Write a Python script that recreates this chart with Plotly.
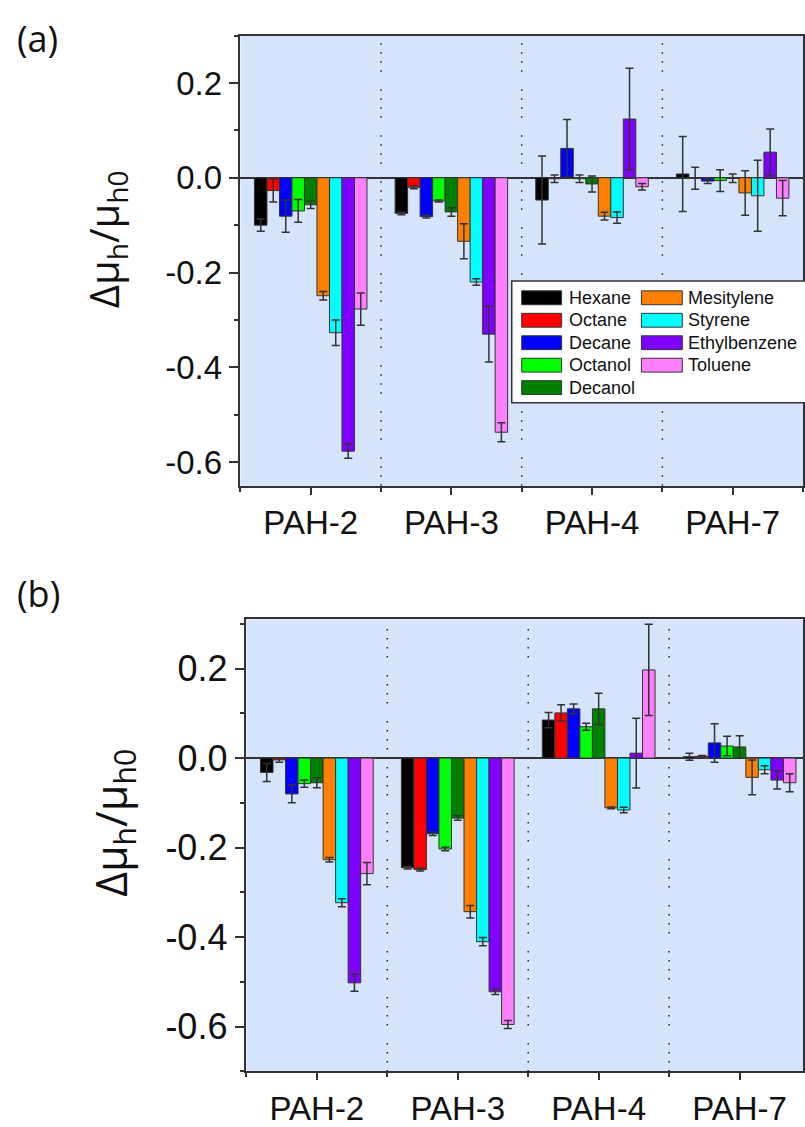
import plotly.graph_objects as go

W, H = 805, 1127

categories = ["PAH-2", "PAH-3", "PAH-4", "PAH-7"]
solvents = ["Hexane", "Octane", "Decane", "Octanol", "Decanol",
            "Mesitylene", "Styrene", "Ethylbenzene", "Toluene"]
colors = ["#000000", "#FF0000", "#0000FF", "#00FF00", "#008000",
          "#FF8000", "#00FFFF", "#8000FF", "#FF80FF"]

# Panel (a) values (per solvent, across PAH-2, PAH-3, PAH-4, PAH-7)
hexane_a = [-0.100, -0.075, -0.047, 0.008]
octane_a = [-0.027, -0.020, -0.002, -0.001]
decane_a = [-0.081, -0.082, 0.062, -0.007]
octanol_a = [-0.070, -0.049, -0.002, -0.006]
decanol_a = [-0.057, -0.072, -0.013, -0.001]
mesitylene_a = [-0.249, -0.134, -0.081, -0.032]
styrene_a = [-0.327, -0.220, -0.084, -0.038]
ethylbenzene_a = [-0.577, -0.330, 0.124, 0.054]
toluene_a = [-0.277, -0.537, -0.019, -0.043]

hexane_a_err = [0.013, 0.003, 0.093, 0.079]
octane_a_err = [0.024, 0.003, 0.008, 0.023]
decane_a_err = [0.034, 0.003, 0.061, 0.005]
octanol_a_err = [0.024, 0.002, 0.008, 0.023]
decanol_a_err = [0.008, 0.009, 0.017, 0.009]
mesitylene_a_err = [0.009, 0.037, 0.008, 0.047]
styrene_a_err = [0.027, 0.007, 0.012, 0.075]
ethylbenzene_a_err = [0.015, 0.059, 0.107, 0.049]
toluene_a_err = [0.034, 0.020, 0.007, 0.037]

# Panel (b) values
hexane_b = [-0.032, -0.245, 0.085, 0.003]
octane_b = [-0.004, -0.249, 0.101, 0.004]
decane_b = [-0.080, -0.169, 0.110, 0.034]
octanol_b = [-0.057, -0.203, 0.070, 0.027]
decanol_b = [-0.055, -0.134, 0.110, 0.025]
mesitylene_b = [-0.227, -0.343, -0.111, -0.043]
styrene_b = [-0.323, -0.410, -0.116, -0.026]
ethylbenzene_b = [-0.502, -0.522, 0.011, -0.049]
toluene_b = [-0.258, -0.595, 0.197, -0.055]

hexane_b_err = [0.020, 0.003, 0.017, 0.008]
octane_b_err = [0.005, 0.003, 0.018, 0.002]
decane_b_err = [0.020, 0.004, 0.011, 0.043]
octanol_b_err = [0.008, 0.004, 0.008, 0.022]
decanol_b_err = [0.011, 0.005, 0.035, 0.025]
mesitylene_b_err = [0.005, 0.014, 0.002, 0.039]
styrene_b_err = [0.009, 0.009, 0.006, 0.009]
ethylbenzene_b_err = [0.019, 0.006, 0.078, 0.020]
toluene_b_err = [0.025, 0.009, 0.102, 0.020]

ytick_vals = [-0.6, -0.4, -0.2, 0.0, 0.2]
ytick_text = ["-0.6", "-0.4", "-0.2", "0.0", "0.2"]

panel_a = [hexane_a, octane_a, decane_a, octanol_a, decanol_a,
           mesitylene_a, styrene_a, ethylbenzene_a, toluene_a]
panel_a_err = [hexane_a_err, octane_a_err, decane_a_err, octanol_a_err, decanol_a_err,
               mesitylene_a_err, styrene_a_err, ethylbenzene_a_err, toluene_a_err]
panel_b = [hexane_b, octane_b, decane_b, octanol_b, decanol_b,
           mesitylene_b, styrene_b, ethylbenzene_b, toluene_b]
panel_b_err = [hexane_b_err, octane_b_err, decane_b_err, octanol_b_err, decanol_b_err,
               mesitylene_b_err, styrene_b_err, ethylbenzene_b_err, toluene_b_err]

xpos = list(range(len(categories)))
AX = "#333333"
TICKFONT = "Liberation Sans, Arial, sans-serif"

fig = go.Figure()
for vals, errs, xa, ya in [(panel_a, panel_a_err, "x", "y"), (panel_b, panel_b_err, "x2", "y2")]:
    for name, col, v, e in zip(solvents, colors, vals, errs):
        fig.add_trace(go.Bar(
            x=xpos, y=v, name=name, xaxis=xa, yaxis=ya, showlegend=False,
            marker=dict(color=col, line=dict(color=AX, width=1)),
            error_y=dict(type="data", array=e, visible=True, color=AX, thickness=1.5, width=4),
        ))


def px_x(p):
    return p / W


def px_y(p):
    return 1 - p / H


def xaxis_cfg(domain, rng):
    return dict(
        domain=domain, range=rng, tickmode="array", tickvals=xpos, ticktext=categories,
        ticks="outside", ticklen=7, tickwidth=1.5, tickcolor=AX,
        showline=True, linecolor=AX, linewidth=1.5, mirror=True,
        showgrid=False, zeroline=False,
        tickfont=dict(family=TICKFONT, size=33, color="#111"),
        minor=dict(tickmode="linear", tick0=0.5, dtick=1, ticks="outside", ticklen=4,
                   tickwidth=1.5, tickcolor=AX, showgrid=False),
        fixedrange=True,
    )


def yaxis_cfg(domain, rng, anchor, size):
    return dict(
        domain=domain, range=rng, anchor=anchor, tickmode="array", tickvals=ytick_vals,
        ticktext=ytick_text, ticks="outside", ticklen=10, tickwidth=1.5, tickcolor=AX,
        showline=True, linecolor=AX, linewidth=1.5, mirror=True, showgrid=False,
        zeroline=True, zerolinecolor=AX, zerolinewidth=1.5,
        tickfont=dict(family=TICKFONT, size=size, color="#111"),
        minor=dict(tickmode="linear", tick0=0, dtick=0.1, ticks="outside", ticklen=5,
                   tickwidth=1.5, tickcolor=AX, showgrid=False),
        fixedrange=True,
    )


fig.update_layout(
    width=W, height=H, margin=dict(l=0, r=0, t=0, b=0),
    paper_bgcolor="white", plot_bgcolor="#D6E4FB",
    barmode="group", bargap=0.2, bargroupgap=0,
    showlegend=False,
    xaxis=dict(xaxis_cfg([px_x(241), 1.0], [-0.5, 3.5]), anchor="y"),
    yaxis=yaxis_cfg([px_y(491), px_y(36)], [-0.65, 0.30], "x", 33),
    xaxis2=dict(xaxis_cfg([px_x(247), 1.0], [-0.5, 3.45]), anchor="y2"),
    yaxis2=yaxis_cfg([px_y(1083), px_y(626)], [-0.70, 0.31], "x2", 36),
)

shapes = []
# dotted separators between groups
for xa, ya in [("x", "y domain"), ("x2", "y2 domain")]:
    for b in [0.5, 1.5, 2.5]:
        shapes.append(dict(type="line", xref=xa, yref=ya, x0=b, x1=b, y0=0, y1=1,
                           line=dict(color="#222", width=1.5,
                                     dash="1.5px,7.5px,1.5px,7.5px,1.5px,7.5px,1.5px,17.5px"),
                           layer="above"))

# legend box (panel a)
shapes.append(dict(type="rect", xref="paper", yref="paper",
                   x0=px_x(513), x1=px_x(810), y0=px_y(407), y1=px_y(284),
                   fillcolor="white", line=dict(color=AX, width=1.5), layer="above"))
annotations = []
row_y0, row_dy = 301, 22.7
col_x = [(523, 563, 568), (643, 684, 688)]
for i, (name, col) in enumerate(zip(solvents, colors)):
    c = 0 if i < 5 else 1
    r = i if i < 5 else i - 5
    cy = row_y0 + r * row_dy
    sx0, sx1, tx = col_x[c]
    shapes.append(dict(type="rect", xref="paper", yref="paper",
                       x0=px_x(sx0), x1=px_x(sx1), y0=px_y(cy + 7), y1=px_y(cy - 7),
                       fillcolor=col, line=dict(color=AX, width=1), layer="above"))
    annotations.append(dict(xref="paper", yref="paper", x=px_x(tx), y=px_y(cy),
                            text=name, showarrow=False, xanchor="left", yanchor="middle",
                            font=dict(family=TICKFONT, size=18, color="#111")))

# panel labels and y-axis titles
TITLEFONT = "Open Sans, Lato, sans-serif"
annotations += [
    dict(xref="paper", yref="paper", x=px_x(38), y=px_y(39), text="(a)", showarrow=False,
         xanchor="center", yanchor="middle",
         font=dict(family=TITLEFONT, size=36, color="#111")),
    dict(xref="paper", yref="paper", x=px_x(39), y=px_y(600), text="(b)", showarrow=False,
         xanchor="center", yanchor="middle",
         font=dict(family=TITLEFONT, size=36, color="#111")),
    dict(xref="paper", yref="paper", x=px_x(106), y=px_y(242),
         text="Δμ<sub>h</sub>/μ<sub>h0</sub>", showarrow=False, textangle=-90,
         xanchor="center", yanchor="middle",
         font=dict(family=TITLEFONT, size=40, color="#111")),
    dict(xref="paper", yref="paper", x=px_x(113), y=px_y(832),
         text="Δμ<sub>h</sub>/μ<sub>h0</sub>", showarrow=False, textangle=-90,
         xanchor="center", yanchor="middle",
         font=dict(family=TITLEFONT, size=43, color="#111")),
]

fig.update_layout(shapes=shapes, annotations=annotations)
fig.write_html("out.html")
